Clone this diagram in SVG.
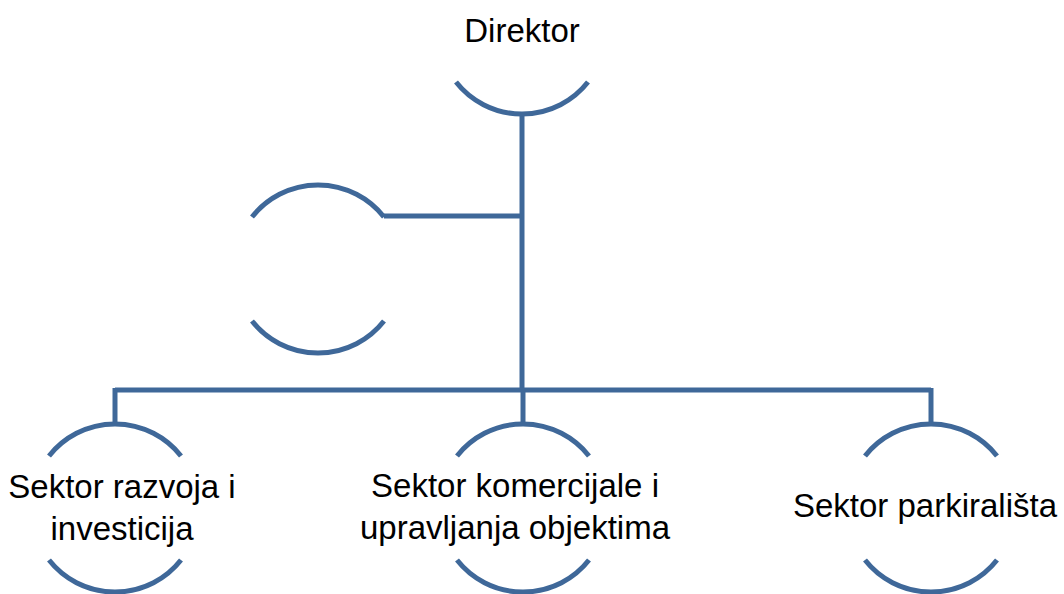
<svg xmlns="http://www.w3.org/2000/svg" width="1064" height="594" viewBox="0 0 1064 594">
  <style>
    .arc { fill: none; stroke: #3F6899; stroke-width: 5; }
    .conn { fill: none; stroke: #3F6899; stroke-width: 5; }
    .lbl { font-family: "Liberation Sans", Arial, sans-serif; font-size: 33px; fill: #000000; text-anchor: middle; }
  </style>
  <rect width="1064" height="594" fill="#ffffff"/>
  <g id="connectors">
    <path class="conn" d="M522 114 V390"/>
    <path class="conn" d="M384 216 H522"/>
    <path class="conn" d="M115 390 H931"/>
    <path class="conn" d="M115 388 V424"/>
    <path class="conn" d="M523 388 V424"/>
    <path class="conn" d="M931 388 V424"/>
  </g>
  <g id="node-direktor">
    <path class="arc" d="M456 82 A84 84 0 0 0 588 82"/>
    <text class="lbl" x="522" y="42">Direktor</text>
  </g>
  <g id="node-assistant">
    <path class="arc" d="M252 217 A84 84 0 0 1 384 217"/>
    <path class="arc" d="M252 321 A84 84 0 0 0 384 321"/>
  </g>
  <g id="node-razvoj">
    <path class="arc" d="M49 456 A84 84 0 0 1 181 456"/>
    <path class="arc" d="M49 560 A84 84 0 0 0 181 560"/>
    <text class="lbl" x="122" y="498">Sektor razvoja i</text>
    <text class="lbl" x="122" y="540">investicija</text>
  </g>
  <g id="node-komercijala">
    <path class="arc" d="M457 456 A84 84 0 0 1 589 456"/>
    <path class="arc" d="M457 560 A84 84 0 0 0 589 560"/>
    <text class="lbl" x="515" y="497">Sektor komercijale i</text>
    <text class="lbl" x="515" y="539">upravljanja objektima</text>
  </g>
  <g id="node-parkiralista">
    <path class="arc" d="M865 456 A84 84 0 0 1 997 456"/>
    <path class="arc" d="M865 560 A84 84 0 0 0 997 560"/>
    <text class="lbl" x="925" y="517">Sektor parkirališta</text>
  </g>
</svg>
